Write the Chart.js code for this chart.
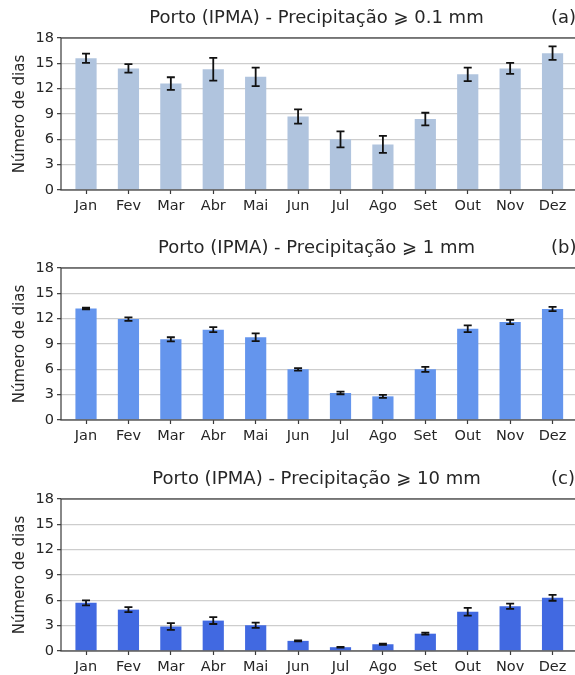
<!DOCTYPE html>
<html>
<head>
<meta charset="utf-8">
<script src="https://cdn.jsdelivr.net/npm/chart.js@4"></script>
<style>
    html, body { margin: 0; padding: 0; background: #fff; }
    body { width: 575px; height: 675px; overflow: hidden; position: relative; }
    .panel { position: absolute; left: 0; width: 590px; height: 225px; }
</style>
</head>
<body>
<div class="panel" style="top:0px"><canvas id="chartA" width="590" height="225"></canvas></div>
<div class="panel" style="top:230px"><canvas id="chartB" width="590" height="225"></canvas></div>
<div class="panel" style="top:461px"><canvas id="chartC" width="590" height="225"></canvas></div>
<script>
const months = ["Jan", "Fev", "Mar", "Abr", "Mai", "Jun", "Jul", "Ago", "Set", "Out", "Nov", "Dez"];
const yTicks = [0, 3, 6, 9, 12, 15, 18];

// >= 0.1 mm
const diasA = [15.6, 14.4, 12.6, 14.3, 13.4, 8.7, 6.0, 5.4, 8.4, 13.7, 14.4, 16.2];
const erroA = [0.55, 0.5, 0.75, 1.35, 1.1, 0.85, 0.95, 1.0, 0.75, 0.8, 0.65, 0.8];
// >= 1 mm
const diasB = [13.2, 11.95, 9.55, 10.7, 9.8, 6.0, 3.2, 2.8, 6.0, 10.8, 11.6, 13.15];
const erroB = [0.1, 0.2, 0.25, 0.3, 0.45, 0.15, 0.15, 0.17, 0.3, 0.4, 0.25, 0.25];
// >= 10 mm
const diasC = [5.7, 4.9, 2.9, 3.6, 3.05, 1.2, 0.45, 0.8, 2.05, 4.65, 5.3, 6.3];
const erroC = [0.3, 0.3, 0.4, 0.4, 0.3, 0.05, 0.05, 0.08, 0.12, 0.45, 0.3, 0.35];

const FONT = "'DejaVu Sans', sans-serif";
const TEXT = "#262626";
const SPINE = "#3a3a3a";

const errorBars = {
    id: "errorBars",
    afterDatasetsDraw(chart, args, opts) {
        const ctx = chart.ctx;
        const meta = chart.getDatasetMeta(0);
        const y = chart.scales.y;
        const cap = 4;
        ctx.save();
        ctx.strokeStyle = "#111";
        ctx.lineWidth = 1.8;
        meta.data.forEach((bar, i) => {
            const v = chart.data.datasets[0].data[i].y;
            const e = opts.errors[i];
            const yHi = y.getPixelForValue(v + e);
            const yLo = y.getPixelForValue(v - e);
            ctx.beginPath();
            ctx.moveTo(bar.x, yHi);
            ctx.lineTo(bar.x, yLo);
            ctx.moveTo(bar.x - cap, yHi);
            ctx.lineTo(bar.x + cap, yHi);
            ctx.moveTo(bar.x - cap, yLo);
            ctx.lineTo(bar.x + cap, yLo);
            ctx.stroke();
        });
        ctx.restore();
    }
};

const frame = {
    id: "frame",
    afterDraw(chart, args, opts) {
        const {left, right, top, bottom} = chart.chartArea;
        const ctx = chart.ctx;
        ctx.save();
        ctx.strokeStyle = SPINE;
        ctx.lineWidth = 1.2;
        ctx.strokeRect(left, top, right - left, bottom - top);
        // title and panel letter
        ctx.fillStyle = TEXT;
        ctx.textBaseline = "middle";
        ctx.font = "18px " + FONT;
        ctx.textAlign = "center";
        ctx.fillText(opts.title, (left + right) / 2 - 3, 18);
        ctx.textAlign = "left";
        ctx.fillText(opts.letter, 551, 18);
        ctx.restore();
    }
};

function makeChart(id, values, errors, color, title, letter) {
    const ctx = document.getElementById(id);
    return new Chart(ctx, {
        type: "bar",
        data: {
            datasets: [{
                data: values.map((v, i) => ({x: i, y: v})),
                backgroundColor: color,
                borderWidth: 0,
                barPercentage: 0.5,
                categoryPercentage: 1.0,
            }]
        },
        options: {
            responsive: false,
            animation: false,
            layout: {padding: {top: 38, right: 12, bottom: 0, left: 0}},
            scales: {
                x: {
                    type: "linear",
                    min: -0.59,
                    max: 11.6,
                    offset: false,
                    border: {display: false},
                    grid: {
                        offset: false,
                        drawOnChartArea: false,
                        drawTicks: true,
                        tickLength: 4,
                        tickColor: SPINE,
                        tickWidth: 1.2,
                    },
                    ticks: {
                        stepSize: 1,
                        includeBounds: false,
                        autoSkip: false,
                        maxRotation: 0,
                        padding: 4,
                        color: TEXT,
                        font: {family: FONT, size: 14.5},
                        callback: (v) => months[v] ?? "",
                    },
                    afterFit: (scale) => { scale.height = 35; },
                },
                y: {
                    min: 0,
                    max: 18,
                    border: {display: false},
                    grid: {
                        color: "#cdcdcd",
                        lineWidth: 1.3,
                        drawTicks: true,
                        tickLength: 4,
                        tickColor: SPINE,
                        tickWidth: 1.2,
                    },
                    afterBuildTicks: (scale) => {
                        scale.ticks = yTicks.map(v => ({value: v}));
                    },
                    ticks: {
                        padding: 3,
                        color: TEXT,
                        font: {family: FONT, size: 14.5},
                    },
                    title: {
                        display: true,
                        text: "Número de dias",
                        color: TEXT,
                        font: {family: FONT, size: 15},
                        padding: {top: 11, bottom: 0},
                    },
                    afterFit: (scale) => { scale.width = 61; },
                },
            },
            plugins: {
                legend: {display: false},
                tooltip: {enabled: false},
                errorBars: {errors: errors},
                frame: {title: title, letter: letter},
            },
        },
        plugins: [errorBars, frame],
    });
}

makeChart("chartA", diasA, erroA, "#b0c4de", "Porto (IPMA) - Precipitação ⩾ 0.1 mm", "(a)");
makeChart("chartB", diasB, erroB, "#6495ed", "Porto (IPMA) - Precipitação ⩾ 1 mm", "(b)");
makeChart("chartC", diasC, erroC, "#4169e1", "Porto (IPMA) - Precipitação ⩾ 10 mm", "(c)");
</script>
</body>
</html>
